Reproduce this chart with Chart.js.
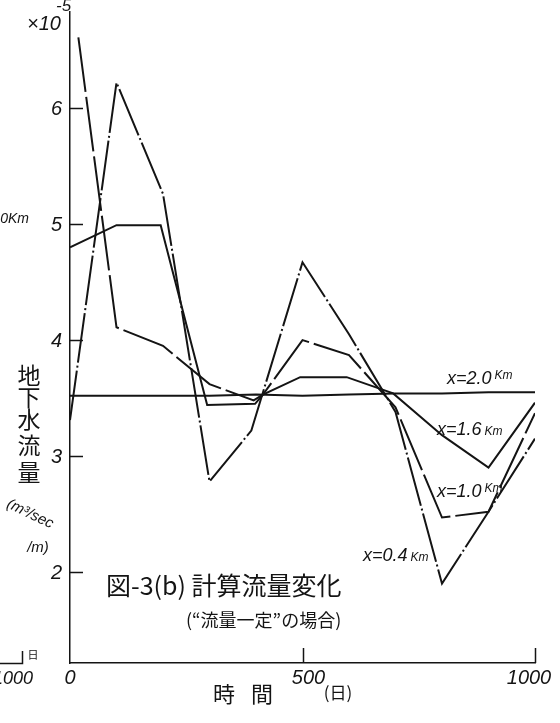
<!DOCTYPE html>
<html>
<head>
<meta charset="utf-8">
<script src="https://cdn.jsdelivr.net/npm/chart.js@4/dist/chart.umd.min.js"></script>
<style>
  html, body { margin: 0; padding: 0; background: #fff; }
  canvas { display: block; }
</style>
</head>
<body>
<canvas id="c" width="560" height="723"></canvas>
<script>
// Groundwater flow (x10^-5 m3/sec/m) against time (days) at several distances
const days04 = [0, 100, 200, 300, 390, 500, 600, 700, 800, 900, 1000];
const flow04 = [3.31, 6.22, 5.26, 2.78, 3.22, 4.67, 4.05, 3.38, 1.90, 2.52, 3.15];

const days10 = [18, 100, 200, 300, 395, 415, 500, 600, 700, 800, 900, 1000];
const flow10 = [6.61, 4.11, 3.95, 3.62, 3.48, 3.53, 4.00, 3.87, 3.42, 2.47, 2.52, 3.37];

const days16 = [0, 100, 195, 295, 398, 415, 495, 595, 695, 800, 900, 1000];
const flow16 = [4.80, 4.99, 4.99, 3.44, 3.45, 3.53, 3.68, 3.68, 3.54, 3.18, 2.90, 3.46];

const days20 = [0, 100, 200, 300, 400, 500, 600, 700, 800, 900, 1000];
const flow20 = [3.52, 3.52, 3.52, 3.52, 3.53, 3.52, 3.53, 3.54, 3.54, 3.55, 3.55];

const yTicks = [2, 3, 4, 5, 6];
const xTicks = [0, 500, 1000];
const xTickLabels = ['0', '500', '1000'];

const seriesNames = ['x=0.4', 'x=1.0', 'x=1.6', 'x=2.0'];

const pts = (xs, ys) => xs.map((x, i) => ({ x: x, y: ys[i] }));

const INK = '#141414';
const NUM_FONT = '"Liberation Sans", "DejaVu Sans", sans-serif';
const JP_FONT = '"Noto Sans CJK JP", "Noto Sans CJK SC", sans-serif';

// Hand-lettered annotations, tick marks and tick labels
const annotations = {
  id: 'annotations',
  afterDraw(chart) {
    const ctx = chart.ctx;
    const xs = chart.scales.x, ys = chart.scales.y;
    const area = chart.chartArea;
    ctx.save();
    ctx.fillStyle = INK;
    ctx.strokeStyle = INK;

    // inward tick marks
    ctx.lineWidth = 1.5;
    ctx.beginPath();
    yTicks.forEach(v => {
      const y = Math.round(ys.getPixelForValue(v)) + 0.5;
      ctx.moveTo(area.left, y);
      ctx.lineTo(area.left + 13, y);
    });
    xTicks.slice(1).forEach(v => {
      const x = Math.round(xs.getPixelForValue(v)) + 0.5;
      ctx.moveTo(x, area.bottom);
      ctx.lineTo(x, area.bottom - 15);
    });
    ctx.stroke();

    // y tick labels
    ctx.font = 'italic 20px ' + NUM_FONT;
    ctx.textAlign = 'right';
    ctx.textBaseline = 'middle';
    yTicks.forEach(v => ctx.fillText(String(v), 62, ys.getPixelForValue(v) + 1));

    // x tick labels
    ctx.textAlign = 'center';
    ctx.textBaseline = 'alphabetic';
    const xShift = [0, 6, -6];
    xTicks.forEach((v, i) => ctx.fillText(xTickLabels[i], xs.getPixelForValue(v) + xShift[i], 684));

    // scale factor
    ctx.textAlign = 'left';
    ctx.font = 'italic 20px ' + NUM_FONT;
    ctx.fillText('×10', 27, 30);
    ctx.font = 'italic 17px ' + NUM_FONT;
    ctx.fillText('-5', 56, 11);

    // vertical y-axis title
    ctx.font = '23px ' + JP_FONT;
    ctx.textAlign = 'center';
    ctx.textBaseline = 'middle';
    const yTitle = ['地', '下', '水', '流', '量'];
    const yTitleY = [375, 397, 419, 445, 472];
    yTitle.forEach((ch, i) => ctx.fillText(ch, 29, yTitleY[i]));

    // unit
    ctx.font = 'italic 15px ' + NUM_FONT;
    ctx.save();
    ctx.translate(30, 514);
    ctx.rotate(0.45);
    ctx.fillText('(m³/sec', 0, 0);
    ctx.restore();
    ctx.fillText('/m)', 38, 548);

    // figure title
    ctx.textAlign = 'left';
    ctx.textBaseline = 'alphabetic';
    ctx.font = '25px ' + JP_FONT;
    ctx.fillText('図-3(b) 計算流量変化', 106, 595);
    ctx.font = '18px ' + JP_FONT;
    ctx.fillText('(“流量一定”の場合)', 186, 627);

    // x-axis title
    ctx.font = '22px ' + JP_FONT;
    ctx.textAlign = 'center';
    ctx.fillText('時', 224, 702);
    ctx.fillText('間', 262, 702);
    ctx.font = '17px ' + JP_FONT;
    ctx.fillText('(日)', 338, 699);

    // curve labels
    ctx.textAlign = 'left';
    const label = (main, x, y, raised) => {
      ctx.font = 'italic 18px ' + NUM_FONT;
      ctx.fillText(main, x, y);
      const w = ctx.measureText(main).width;
      ctx.font = 'italic 12px ' + NUM_FONT;
      ctx.fillText('Km', x + w + 3, raised ? y - 5 : y);
    };
    label(seriesNames[3], 447, 384, true);
    label(seriesNames[2], 437, 435, false);
    label(seriesNames[1], 437, 497, true);
    label(seriesNames[0], 363, 561, false);

    // edge of the neighbouring figure
    ctx.font = 'italic 14px ' + NUM_FONT;
    ctx.textAlign = 'right';
    ctx.fillText('2.0Km', 29, 223);
    ctx.font = 'italic 18px ' + NUM_FONT;
    ctx.fillText('1000', 33, 684);
    ctx.font = '11px ' + JP_FONT;
    ctx.textAlign = 'center';
    ctx.fillText('日', 33, 659);
    ctx.lineWidth = 1.5;
    ctx.beginPath();
    ctx.moveTo(0, 663.5);
    ctx.lineTo(22.5, 663.5);
    ctx.lineTo(22.5, 651);
    ctx.stroke();

    ctx.restore();
  }
};

const lineStyle = { borderColor: INK, backgroundColor: INK, borderWidth: 2, pointRadius: 0, tension: 0, fill: false };

new Chart(document.getElementById('c'), {
  type: 'line',
  data: {
    datasets: [
      Object.assign({ label: seriesNames[0], data: pts(days04, flow04), borderDash: [50, 3, 2, 3] }, lineStyle),
      Object.assign({ label: seriesNames[1], data: pts(days10, flow10), borderDash: [55, 5] }, lineStyle),
      Object.assign({ label: seriesNames[2], data: pts(days16, flow16) }, lineStyle),
      Object.assign({ label: seriesNames[3], data: pts(days20, flow20) }, lineStyle)
    ]
  },
  options: {
    responsive: false,
    animation: false,
    events: [],
    layout: { padding: { left: 70, right: 25, top: 12, bottom: 60 } },
    plugins: {
      legend: { display: false },
      tooltip: { enabled: false },
      title: { display: false },
      colors: { enabled: false }
    },
    scales: {
      x: {
        type: 'linear',
        min: 0,
        max: 1000,
        grid: { display: false },
        ticks: { display: false },
        border: { display: true, color: INK, width: 1.5 },
        afterFit: s => { s.height = 0; }
      },
      y: {
        type: 'linear',
        min: 1.216,
        max: 6.828,
        grid: { display: false },
        ticks: { display: false },
        border: { display: true, color: INK, width: 1.5 },
        afterFit: s => { s.width = 0; }
      }
    }
  },
  plugins: [annotations]
});
</script>
</body>
</html>
